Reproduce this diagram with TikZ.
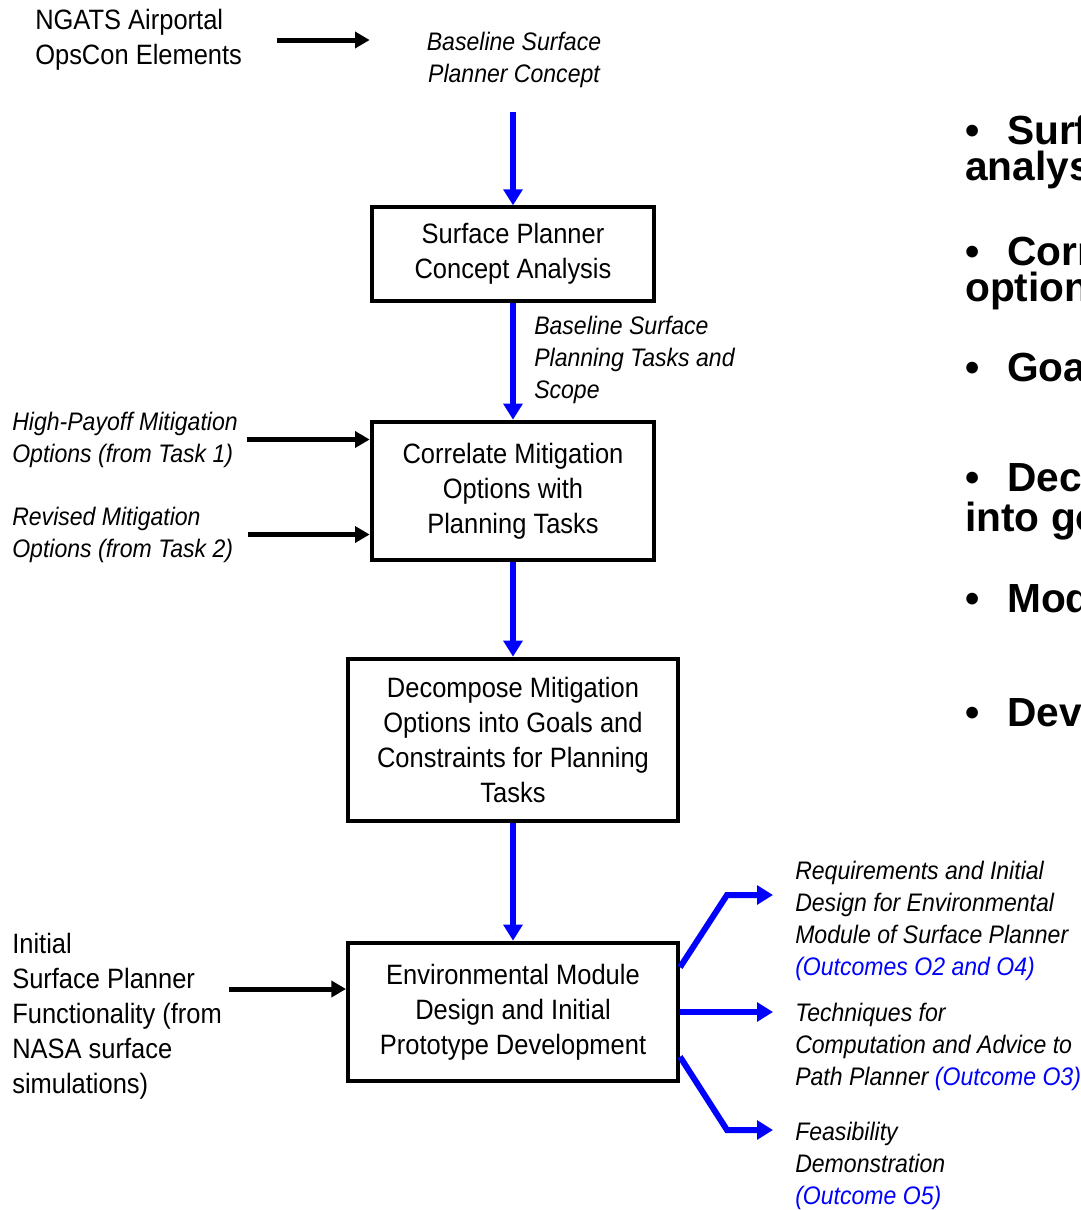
\documentclass[tikz,border=0pt]{standalone}
\usepackage{fontspec}
\setmainfont{Liberation Sans}[FakeStretch=0.91]
\newfontfamily\widefont{Liberation Sans}
\usepackage{tikz}
\usepackage{xcolor}
\usetikzlibrary{arrows.meta}

\definecolor{flowblue}{RGB}{0,0,255}

\tikzset{
  procbox/.style={draw=black, line width=3pt, fill=white, align=center, inner sep=0pt,
    font=\fontsize{21}{26.25}\selectfont},
  plainnote/.style={align=left, inner sep=0pt, font=\fontsize{21}{26.25}\selectfont},
  italnote/.style={align=left, inner sep=0pt, font=\fontsize{19}{24}\selectfont\itshape},
  flowarrow/.style={flowblue, line width=4.5pt, -{Triangle[length=12pt,width=14pt]}},
  outarrow/.style={flowblue, line width=4.5pt, -{Triangle[length=12pt,width=14pt]}},
  feedarrow/.style={black, line width=3.75pt, -{Triangle[length=11pt,width=12pt]}},
  bulletline/.style={anchor=base west, align=left, inner sep=0pt,
    font=\widefont\fontsize{30.5}{26.5}\selectfont\bfseries},
}

\begin{document}
\begin{tikzpicture}[x=0.75pt,y=-0.75pt]
\useasboundingbox (0,0) rectangle (1081,1210);
\clip (0,0) rectangle (1081,1210);

% inputs at the top
\node[plainnote, anchor=west] (ngats) at (35,40) {NGATS Airportal\\OpsCon Elements};
\node[italnote, align=center] (concept) at (514,60) {Baseline Surface\\Planner Concept};
\coordinate (conceptfoot) at (513,112);

% the four process boxes
\node[procbox, minimum width=212pt, minimum height=70pt] (analysis) at (513,254)
  {Surface Planner\\Concept Analysis};
\node[procbox, minimum width=212pt, minimum height=104pt] (correlate) at (513,491)
  {Correlate Mitigation\\Options with\\Planning Tasks};
\node[procbox, minimum width=247.5pt, minimum height=122pt] (decompose) at (513,740)
  {Decompose Mitigation\\Options into Goals and\\Constraints for Planning\\Tasks};
\node[procbox, minimum width=247.5pt, minimum height=104pt] (envmodule) at (513,1012)
  {Environmental Module\\Design and Initial\\Prototype Development};

% side inputs
\node[italnote, anchor=west] (scope) at (534,360) {Baseline Surface\\Planning Tasks and\\Scope};
\node[italnote, anchor=west] (payoff) at (12,439.5) {High-Payoff Mitigation\\Options (from Task 1)};
\node[italnote, anchor=west] (revised) at (12,534.5) {Revised Mitigation\\Options (from Task 2)};
\node[plainnote, anchor=west] (initial) at (12,1016)
  {Initial\\Surface Planner\\Functionality (from\\NASA surface\\simulations)};
\coordinate (initfeed) at (229,989);

% outcomes
\node[italnote, anchor=west] (outreq) at (795,921)
  {Requirements and Initial\\Design for Environmental\\Module of Surface Planner\\\textcolor{flowblue}{(Outcomes O2 and O4)}};
\node[italnote, anchor=west] (outtech) at (795,1047)
  {Techniques for\\Computation and Advice to\\Path Planner \textcolor{flowblue}{(Outcome O3)}};
\node[italnote, anchor=west] (outfeas) at (795,1166)
  {Feasibility\\Demonstration\\\textcolor{flowblue}{(Outcome O5)}};
\coordinate (reqbend) at (727,895);
\coordinate (feasbend) at (727,1130);

% main flow
\draw[flowarrow] (conceptfoot) -- (analysis.north);
\draw[flowarrow] (analysis.south) -- (correlate.north);
\draw[flowarrow] (correlate.south) -- (decompose.north);
\draw[flowarrow] (decompose.south) -- (envmodule.north);

% black feeds
\draw[feedarrow, shorten <=26pt] (ngats.east) -- (ngats.east -| analysis.west);
\draw[feedarrow, shorten <=7pt] (payoff.east) -- (payoff.east -| correlate.west);
\draw[feedarrow, shorten <=11pt] (revised.east) -- (revised.east -| correlate.west);
\draw[feedarrow] (initfeed) -- (initfeed -| envmodule.west);

% outcome arrows
\draw[outarrow, shorten >=16.5pt] (envmodule.15) -- (reqbend) -- (reqbend -| outreq.west);
\draw[outarrow, shorten >=16.5pt] (envmodule.east) -- (envmodule.east -| outtech.west);
\draw[outarrow, shorten >=16.5pt] (envmodule.-15) -- (feasbend) -- (feasbend -| outfeas.west);

% bullet list, cut by the right edge (base = last line)
\node[bulletline] (bsurf) at (965,180) {\textbullet\hskip0.68em Surface\\analysis};
\node[bulletline] (bcorr) at (965,301) {\textbullet\hskip0.68em Correlate\\options};
\node[bulletline] (bgoal) at (965,381) {\textbullet\hskip0.68em Goals};
\node[bulletline] (bdec) at (965,531) {\textbullet\hskip0.68em Decompose\\into goals};
\node[bulletline] (bmod) at (965,612) {\textbullet\hskip0.68em Model};
\node[bulletline] (bdev) at (965,726) {\textbullet\hskip0.68em Develop};
\end{tikzpicture}
\end{document}
